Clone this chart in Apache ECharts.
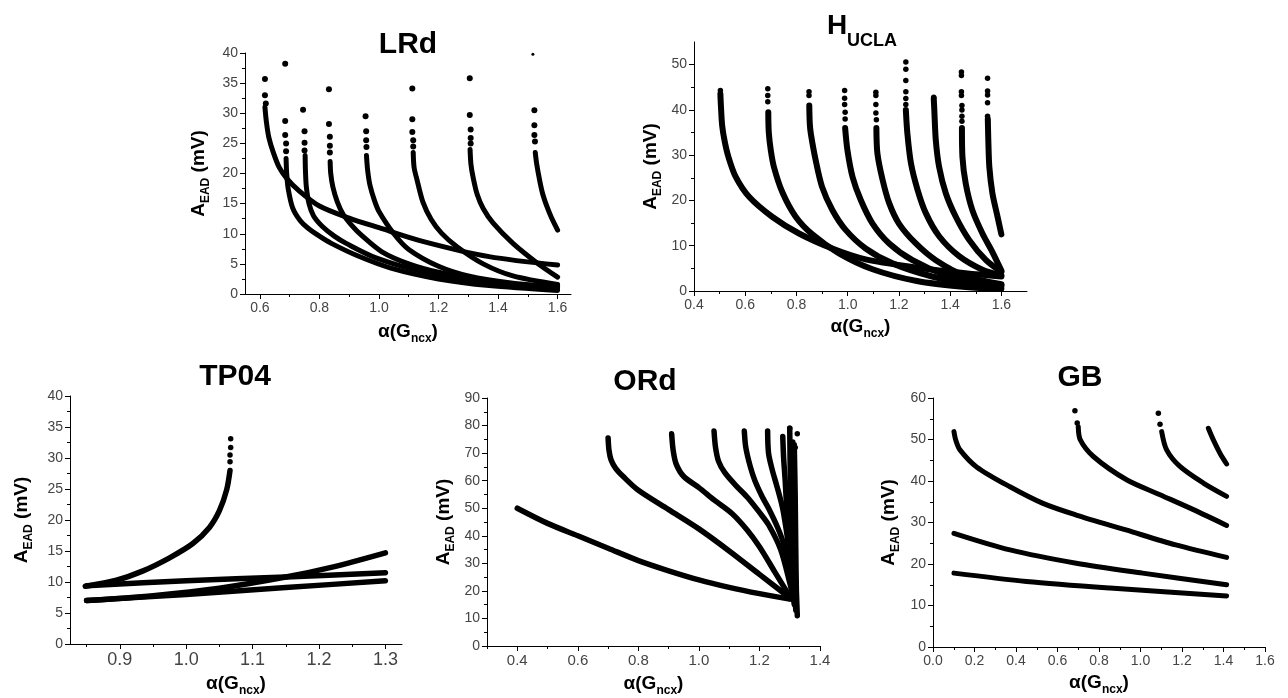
<!DOCTYPE html>
<html><head><meta charset="utf-8">
<script src="https://cdn.jsdelivr.net/npm/echarts@6/dist/echarts.min.js"></script>
<style>html,body{margin:0;padding:0;background:#fff}#c{width:1288px;height:698px}</style>
</head><body><div id="c"></div>
<script>
// ---------- Panel titles ----------
const titles = ['LRd', 'H', 'TP04', 'ORd', 'GB'];

// ---------- Axis ranges & tick labels ----------
const lrdX = [0.55, 1.645], lrdY = [0, 40];
const lrdXMajor = [0.6, 0.8, 1.0, 1.2, 1.4, 1.6], lrdXMinor = [0.7, 0.9, 1.1, 1.3, 1.5];
const lrdYMajor = [0, 5, 10, 15, 20, 25, 30, 35, 40], lrdYMinor = [2.5, 7.5, 12.5, 17.5, 22.5, 27.5, 32.5, 37.5];

const hX = [0.4, 1.7], hY = [0, 55];
const hXMajor = [0.4, 0.6, 0.8, 1.0, 1.2, 1.4, 1.6], hXMinor = [0.5, 0.7, 0.9, 1.1, 1.3, 1.5];
const hYMajor = [0, 10, 20, 30, 40, 50], hYMinor = [5, 15, 25, 35, 45];

const tpX = [0.825, 1.325], tpY = [0, 40];
const tpXMajor = [0.9, 1.0, 1.1, 1.2, 1.3], tpXMinor = [0.85, 0.95, 1.05, 1.15, 1.25];
const tpYMajor = [0, 5, 10, 15, 20, 25, 30, 35, 40], tpYMinor = [2.5, 7.5, 12.5, 17.5, 22.5, 27.5, 32.5, 37.5];

const oX = [0.3, 1.4], oY = [0, 90];
const oXMajor = [0.4, 0.6, 0.8, 1.0, 1.2, 1.4], oXMinor = [0.3, 0.5, 0.7, 0.9, 1.1, 1.3];
const oYMajor = [0, 10, 20, 30, 40, 50, 60, 70, 80, 90], oYMinor = [5, 15, 25, 35, 45, 55, 65, 75, 85];

const gX = [0, 1.6], gY = [0, 60];
const gXMajor = [0, 0.2, 0.4, 0.6, 0.8, 1.0, 1.2, 1.4, 1.6], gXMinor = [0.1, 0.3, 0.5, 0.7, 0.9, 1.1, 1.3, 1.5];
const gYMajor = [0, 10, 20, 30, 40, 50, 60], gYMinor = [5, 15, 25, 35, 45, 55];

// ---------- LRd ----------
const lrdC1 = [[0.617,31],[0.622,28.5],[0.63,26],[0.645,23.5],[0.665,21],[0.69,19.2],[0.73,17.2],[0.8,14.6],[0.9,12.6],[1.0,11.0],[1.15,8.7],[1.37,6.2],[1.6,4.8]];
const lrdC2 = [[0.688,22.5],[0.69,20],[0.695,17.5],[0.71,14.3],[0.735,12.2],[0.76,11.0],[0.8,9.6],[0.84,8.4],[0.93,6.3],[1.04,4.3],[1.2,2.5],[1.37,1.4],[1.6,0.6]];
const lrdC3 = [[0.752,23],[0.753,20.5],[0.756,17.8],[0.765,15],[0.78,13],[0.81,11.2],[0.85,9.6],[0.89,8.4],[0.99,6.0],[1.15,3.7],[1.37,2.0],[1.6,1.2]];
const lrdC4 = [[0.836,22],[0.838,20],[0.845,17.8],[0.86,15.3],[0.88,13.2],[0.91,11.3],[0.94,9.8],[1.01,7.0],[1.1,5.0],[1.2,3.6],[1.37,2.0],[1.6,1.0]];
const lrdC5 = [[0.958,23],[0.962,20.5],[0.97,18],[0.985,15.5],[1.0,13.7],[1.05,10.0],[1.1,7.4],[1.2,4.6],[1.3,3.0],[1.45,1.8],[1.6,1.2]];
const lrdC6 = [[1.115,23.5],[1.118,21],[1.128,18.9],[1.148,15.2],[1.175,12.4],[1.21,10.1],[1.263,7.8],[1.35,5.0],[1.45,3.0],[1.6,1.6]];
const lrdC7 = [[1.306,24],[1.309,21.5],[1.316,19.4],[1.33,16.5],[1.35,14.2],[1.383,11.8],[1.45,8.4],[1.53,5.2],[1.6,2.8]];
const lrdC8 = [[1.525,23.5],[1.53,21.5],[1.54,18.8],[1.55,16.6],[1.565,14.4],[1.58,12.6],[1.6,10.6]];
const lrdDots = [[0.617,35.7],[0.617,33],[0.62,31.6],[0.685,38.2],[0.685,28.7],[0.685,26.4],[0.688,25],[0.688,23.7],
  [0.745,30.6],[0.75,27],[0.75,25.1],[0.75,23.8],[0.832,34],[0.832,28.2],[0.835,26.1],[0.835,24.6],[0.835,23.5],
  [0.955,29.5],[0.957,27],[0.957,25.5],[0.958,24.4],[1.112,34.1],[1.112,29],[1.112,26.9],[1.115,25.5],[1.115,24.5],
  [1.305,35.8],[1.305,29.7],[1.308,27.3],[1.308,25.9],[1.308,25],[1.522,30.5],[1.522,28],[1.522,26.4],[1.524,25.3]];
const lrdTopDot = [[1.517,39.8]];

// ---------- H_UCLA ----------
const h1 = [[0.503,43.5],[0.505,41],[0.51,36.5],[0.52,33],[0.535,29.5],[0.563,25.2],[0.615,20.8],[0.705,16.4],[0.81,12.7],[0.94,9.4],[1.07,7.0],[1.27,5.2],[1.46,3.9],[1.6,3.2]];
const h2 = [[0.69,39.5],[0.692,35],[0.70,31],[0.712,27.4],[0.745,21.8],[0.797,16.4],[0.862,12.5],[0.966,8.3],[1.097,4.8],[1.27,2.2],[1.46,0.9],[1.6,0.5]];
const h3 = [[0.85,41],[0.852,37],[0.856,34.8],[0.875,28.9],[0.90,23],[0.94,17.9],[0.992,13.5],[1.07,9.4],[1.175,6.1],[1.33,3.2],[1.46,1.8],[1.6,1.1]];
const h4 = [[0.99,36],[0.999,31.1],[1.019,25.2],[1.051,20.1],[1.097,14.9],[1.162,10.5],[1.253,6.8],[1.383,3.5],[1.5,2.0],[1.6,1.3]];
const h5 = [[1.112,36],[1.116,30.4],[1.136,24.6],[1.162,19.4],[1.2,14.9],[1.266,10.5],[1.344,6.8],[1.46,3.3],[1.6,1.5]];
const h6 = [[1.227,40],[1.233,34.8],[1.247,28.2],[1.273,22.3],[1.305,17.2],[1.357,12.1],[1.435,7.7],[1.526,4.7],[1.6,3.4]];
const h7 = [[1.336,42.5],[1.338,40.2],[1.344,33.3],[1.357,27.4],[1.383,21.6],[1.422,16.4],[1.474,11.3],[1.54,6.8],[1.6,4.2]];
const h8 = [[1.446,36],[1.448,29.6],[1.461,23.7],[1.487,17.8],[1.526,12.7],[1.565,8.6],[1.6,4.5]];
const h9 = [[1.547,38],[1.549,33.3],[1.553,27.4],[1.565,21.6],[1.585,16.4],[1.6,12.5]];
const hDots = [[0.503,44.3],[0.688,44.7],[0.688,43.2],[0.688,41.8],[0.849,44.0],[0.849,43.2],
  [0.988,44.3],[0.988,42.6],[0.988,41.2],[0.99,39.5],[0.99,38],[1.11,43.9],[1.11,43.2],[1.11,41.2],[1.11,39.3],[1.112,37.8],
  [1.227,50.6],[1.227,49],[1.227,46.5],[1.227,44],[1.227,42.5],[1.227,41.2],[1.336,42.8],
  [1.444,48.4],[1.444,47.6],[1.444,44],[1.444,43.2],[1.446,41],[1.446,40],[1.446,38.6],[1.446,37.5],
  [1.546,47],[1.546,44.2],[1.546,43.3],[1.546,41.6],[1.546,38.6]];

// ---------- TP04 ----------
const tpU = [[0.848,9.3],[0.895,10.3],[0.935,11.8],[0.975,13.9],[1.01,16.2],[1.035,18.8],[1.05,21.5],[1.061,24.9],[1.066,28]];
const tpA = [[0.85,9.4],[1.0,10.2],[1.15,10.8],[1.3,11.5]];
const tpB = [[0.85,7.0],[1.0,8.0],[1.15,9.1],[1.3,10.2]];
const tpC = [[0.85,7.0],[0.95,7.8],[1.05,9.0],[1.15,10.8],[1.22,12.4],[1.3,14.7]];
const tpDots = [[1.067,33.1],[1.067,31.7],[1.066,30.5],[1.066,29.4]];

// ---------- ORd ----------
const o1 = [[0.4,50],[0.5,44.5],[0.6,40],[0.7,35.5],[0.8,31],[0.9,27.3],[1.0,24],[1.1,21.3],[1.2,19],[1.3,17]];
const o2 = [[0.70,75.5],[0.703,71],[0.71,67.5],[0.725,64.5],[0.75,61.5],[0.8,56.5],[0.9,49.5],[1.0,42.5],[1.1,34.5],[1.2,26],[1.3,17.5]];
const o3 = [[0.91,77],[0.915,71],[0.925,66],[0.95,61.5],[1.0,57.5],[1.05,53],[1.11,48],[1.16,42],[1.2,36],[1.25,27],[1.3,18]];
const o4 = [[1.05,78],[1.055,72],[1.065,67],[1.085,63],[1.12,58.5],[1.16,54],[1.2,48.5],[1.23,44],[1.27,35],[1.3,23],[1.31,18]];
const o5 = [[1.15,78],[1.155,72],[1.17,65],[1.185,60],[1.21,54],[1.23,50],[1.26,43],[1.28,37],[1.3,26],[1.31,18]];
const o6 = [[1.227,78],[1.23,70],[1.242,64],[1.255,59],[1.27,53],[1.28,48],[1.295,37],[1.305,24],[1.31,18]];
const o7 = [[1.277,76],[1.28,68],[1.285,60],[1.29,50],[1.298,38],[1.305,26],[1.31,17]];
const o8 = [[1.30,79],[1.302,60],[1.305,40],[1.31,20],[1.315,15]];
const o9 = [[1.315,73],[1.318,55],[1.32,35],[1.322,20],[1.325,11]];
const o10 = [[1.31,70],[1.312,45],[1.315,25],[1.32,13]];
const oDots = [[1.30,79],[1.325,77],[1.31,74],[1.318,72]];

// ---------- GB ----------
const g1 = [[0.101,51.9],[0.11,49.8],[0.13,47.5],[0.21,43.4],[0.371,38.6],[0.53,34.6],[0.69,31.8],[0.93,28.2],[1.17,24.6],[1.415,21.6]];
const g2 = [[0.101,27.4],[0.371,23.4],[0.69,20.2],[1.01,17.8],[1.415,15.0]];
const g3 = [[0.101,17.8],[0.45,15.8],[0.853,14.2],[1.415,12.3]];
const g4 = [[0.70,53.1],[0.71,49.9],[0.773,45.9],[0.933,40.3],[1.094,36.7],[1.255,33.1],[1.415,29.3]];
const g5 = [[1.102,51.9],[1.126,47.5],[1.19,43.5],[1.303,39.5],[1.415,36.3]];
const g6 = [[1.327,52.7],[1.351,49.9],[1.383,46.7],[1.415,44.1]];
const gDots = [[0.684,56.9],[0.695,54],[1.086,56.3],[1.094,53.7]];

// =====================================================
const FONT = '"Liberation Sans", Arial, sans-serif';
const grids = [
  {left: 245, top: 53, width: 326, height: 241},
  {left: 694, top: 42, width: 333, height: 249},
  {left: 70,  top: 396, width: 332, height: 249},
  {left: 487, top: 398, width: 333, height: 249},
  {left: 933, top: 398, width: 332, height: 249}
];
const yName = '{a|A}{s|EAD}{a| (mV)}';
const xName = '{a|α(G}{s|ncx}{a|)}';
const nameRich = {
  a: {fontFamily: FONT, fontWeight: 'bold', fontSize: 19, color: '#000', lineHeight: 20, verticalAlign: 'top'},
  s: {fontFamily: FONT, fontWeight: 'bold', fontSize: 12, color: '#000', lineHeight: 12, verticalAlign: 'top', padding: [11, 0, 0, 0]}
};

const xAxes = [], yAxes = [];
function addAxes(gi, xr, yr, xMaj, xMin, yMaj, yMin, xFont, yFont, xGap, yGap, xFmt) {
  const common = {type: 'value', gridIndex: gi, splitLine: {show: false}};
  xAxes.push(Object.assign({}, common, {
    position: 'bottom', min: xr[0], max: xr[1],
    axisLine: {show: true, onZero: false, lineStyle: {color: '#000', width: 1}},
    axisTick: {show: true, customValues: xMaj, length: 5, lineStyle: {color: '#000'}},
    axisLabel: {customValues: xMaj, formatter: v => xFmt(v), color: '#444', fontSize: xFont, fontFamily: FONT, margin: 7},
    name: xName, nameLocation: 'middle', nameGap: xGap,
    nameTextStyle: {rich: nameRich}
  }));
  xAxes.push(Object.assign({}, common, {
    position: 'bottom', min: xr[0], max: xr[1],
    axisLine: {show: false, onZero: false},
    axisTick: {show: true, customValues: xMin, length: 3, lineStyle: {color: '#000'}},
    axisLabel: {show: false}
  }));
  yAxes.push(Object.assign({}, common, {
    position: 'left', min: yr[0], max: yr[1],
    axisLine: {show: true, onZero: false, lineStyle: {color: '#000', width: 1}},
    axisTick: {show: true, customValues: yMaj, length: 5, lineStyle: {color: '#000'}},
    axisLabel: {customValues: yMaj, formatter: v => String(Math.round(v)), color: '#444', fontSize: yFont, fontFamily: FONT, margin: 7},
    name: yName, nameLocation: 'middle', nameRotate: 90, nameGap: yGap,
    nameTextStyle: {rich: nameRich}
  }));
  yAxes.push(Object.assign({}, common, {
    position: 'left', min: yr[0], max: yr[1],
    axisLine: {show: false, onZero: false},
    axisTick: {show: true, customValues: yMin, length: 3, lineStyle: {color: '#000'}},
    axisLabel: {show: false}
  }));
}
const f1 = v => v.toFixed(1);
addAxes(0, lrdX, lrdY, lrdXMajor, lrdXMinor, lrdYMajor, lrdYMinor, 14, 14, 28, 36, f1);
addAxes(1, hX, hY, hXMajor, hXMinor, hYMajor, hYMinor, 14, 14, 26, 33, f1);
addAxes(2, tpX, tpY, tpXMajor, tpXMinor, tpYMajor, tpYMinor, 18, 14, 30, 38, f1);
addAxes(3, oX, oY, oXMajor, oXMinor, oYMajor, oYMinor, 15, 14, 28, 33, f1);
addAxes(4, gX, gY, gXMajor, gXMinor, gYMajor, gYMinor, 14, 14, 26, 34, f1);

const series = [];
function curve(data, gi, w) {
  series.push({type: 'line', xAxisIndex: gi * 2, yAxisIndex: gi * 2, data: data, symbol: 'none',
    smooth: 0.3, silent: true,
    lineStyle: {color: '#000', width: w, cap: 'round', join: 'round', opacity: 1}});
}
function dots(data, gi, size) {
  series.push({type: 'scatter', xAxisIndex: gi * 2, yAxisIndex: gi * 2, data: data, symbol: 'circle',
    symbolSize: size, silent: true, itemStyle: {color: '#000', opacity: 1}});
}
[lrdC1, lrdC2, lrdC3, lrdC4, lrdC5, lrdC6, lrdC7, lrdC8].forEach(d => curve(d, 0, 5));
dots(lrdDots, 0, 6); dots(lrdTopDot, 0, 3);
[h1, h2, h3, h4, h5, h6, h7, h8, h9].forEach(d => curve(d, 1, 6));
dots(hDots, 1, 5.5);
[tpA, tpB, tpC, tpU].forEach(d => curve(d, 2, 5.5));
dots(tpDots, 2, 5.5);
[o1, o2, o3, o4, o5, o6, o7, o8, o9, o10].forEach(d => curve(d, 3, 5.5));
dots(oDots, 3, 5.5);
[g1, g2, g3, g4, g5, g6].forEach(d => curve(d, 4, 5));
dots(gDots, 4, 5.5);

const titleFont = {fontFamily: FONT, fontWeight: 'bold', fill: '#000'};
const graphic = [
  {type: 'text', x: 408, y: 45, style: Object.assign({text: titles[0], fontSize: 30, align: 'center', verticalAlign: 'middle'}, titleFont)},
  {type: 'text', x: 862, y: 12, style: {text: '{h|' + titles[1] + '}{s|UCLA}', align: 'center', verticalAlign: 'top',
     rich: {h: {fontFamily: FONT, fontWeight: 'bold', fontSize: 28, lineHeight: 30, verticalAlign: 'top', color: '#000'},
            s: {fontFamily: FONT, fontWeight: 'bold', fontSize: 18, lineHeight: 20, verticalAlign: 'top', color: '#000', padding: [20, 0, 0, 0]}}}},
  {type: 'text', x: 235, y: 377, style: Object.assign({text: titles[2], fontSize: 30, align: 'center', verticalAlign: 'middle'}, titleFont)},
  {type: 'text', x: 645, y: 382, style: Object.assign({text: titles[3], fontSize: 30, align: 'center', verticalAlign: 'middle'}, titleFont)},
  {type: 'text', x: 1080, y: 378, style: Object.assign({text: titles[4], fontSize: 30, align: 'center', verticalAlign: 'middle'}, titleFont)}
];

const chart = echarts.init(document.getElementById('c'), null, {renderer: 'canvas'});
chart.setOption({
  animation: false,
  backgroundColor: '#fff',
  grid: grids,
  xAxis: xAxes,
  yAxis: yAxes,
  series: series,
  graphic: graphic
});
</script>
</body></html>
